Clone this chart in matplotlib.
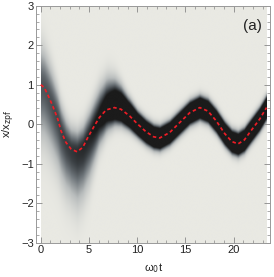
import numpy as np
import matplotlib
matplotlib.use("Agg")
import matplotlib.pyplot as plt
from matplotlib.colors import LinearSegmentedColormap

# Mean trajectory (red dashed)
mean_t = [0.0, 0.35, 0.72, 1.24, 1.76, 2.1, 2.6, 3.14, 3.76, 4.35, 4.87, 5.56, 6.08,
          6.77, 7.63, 8.3, 9.2, 10.05, 10.9, 11.7, 12.33, 13.37, 14.4, 15.44, 16.48,
          17.34, 18.2, 19.07, 19.8, 20.45, 21.1, 21.66, 22.7, 23.4]
mean_x = [1.0, 0.93, 0.75, 0.46, 0.13, -0.17, -0.46, -0.63, -0.70, -0.59, -0.34, -0.04, 0.17,
          0.36, 0.42, 0.38, 0.21, 0.0, -0.19, -0.32, -0.35, -0.21, 0.04, 0.29, 0.42,
          0.33, 0.08, -0.24, -0.44, -0.50, -0.40, -0.21, 0.13, 0.42]

# Probability density around the mean: darkness at the peak and spread above / below
spread_t = [0.0, 1.0, 2.0, 3.0, 3.8, 5.0, 6.0, 7.0, 7.8, 9.0, 10.0, 12.0, 23.4]
peak_level = [0.72, 0.75, 0.8, 0.85, 0.9, 0.95, 1.1, 1.5, 2.0, 2.6, 3.0, 3.0, 3.0]
spread_up = [0.62, 0.55, 0.42, 0.35, 0.35, 0.38, 0.45, 0.45, 0.38, 0.24, 0.18, 0.17, 0.17]
spread_dn = [0.88, 0.82, 0.78, 0.75, 0.8, 0.7, 0.44, 0.3, 0.24, 0.2, 0.18, 0.17, 0.17]

x_ticks = [0, 5, 10, 15, 20]
y_ticks = [-3, -2, -1, 0, 1, 2, 3]
panel_label = "(a)"

plt.rcParams['font.family'] = ['Liberation Sans', 'DejaVu Sans']
fig = plt.figure(figsize=(2.74, 2.77), dpi=100)
ax = fig.add_axes([0.133, 0.1245, 0.852, 0.8545])

# density field
tg = np.linspace(spread_t[0], spread_t[-1], 500)
yg = np.linspace(-3, 3, 600)
T, Y = np.meshgrid(tg, yg)
m = np.interp(tg, mean_t, mean_x)
pk = np.interp(tg, spread_t, peak_level)
su = np.interp(tg, spread_t, spread_up)
sd = np.interp(tg, spread_t, spread_dn)
D = Y - m[None, :]
S = np.where(D > 0, su[None, :], sd[None, :])
rho = pk[None, :] * np.exp(-D**2 / (2 * S**2))

cmap = LinearSegmentedColormap.from_list(
    "graytones",
    [(0.0, "#e9e9e3"), (0.3, "#b9bdbd"), (0.6, "#6d7479"), (0.82, "#3a3f43"), (1.0, "#1b1b1b")])
ax.imshow(rho, extent=[tg[0], tg[-1], -3, 3], origin="lower", aspect="auto",
          cmap=cmap, vmin=0, vmax=1.0, interpolation="bilinear")

ax.plot(mean_t, mean_x, color="#ee1c25", lw=1.25, dashes=(2.0, 1.6))

ax.set_xlim(-0.45, 23.75)
ax.set_ylim(-3, 3)
ax.set_xticks(x_ticks)
ax.set_yticks(y_ticks)
ax.set_yticklabels(["\u22123", "\u22122", "\u22121", "0", "1", "2", "3"])
ax.set_xticks(np.arange(0, 24, 1), minor=True)
ax.set_yticks(np.arange(-3, 3.01, 0.2), minor=True)
ax.tick_params(which="both", direction="in", top=True, right=True, colors="#888888",
               labelcolor="#222222", labelsize=8)
ax.tick_params(which="major", length=4, width=0.6, pad=2)
ax.tick_params(which="minor", length=2, width=0.5)
for s in ax.spines.values():
    s.set_color("#999999")
    s.set_linewidth(0.7)

ax.set_xlabel("\u03c9$_0$t", fontsize=8, color="#222222", labelpad=4)
ax.set_ylabel("x/x$_{\\rm zpf}$", fontsize=8, color="#222222", labelpad=3)
ax.text(0.927, 0.914, panel_label, transform=ax.transAxes, ha="center", va="center",
        fontsize=11, color="#222222")

fig.savefig("out.png", dpi=100)
